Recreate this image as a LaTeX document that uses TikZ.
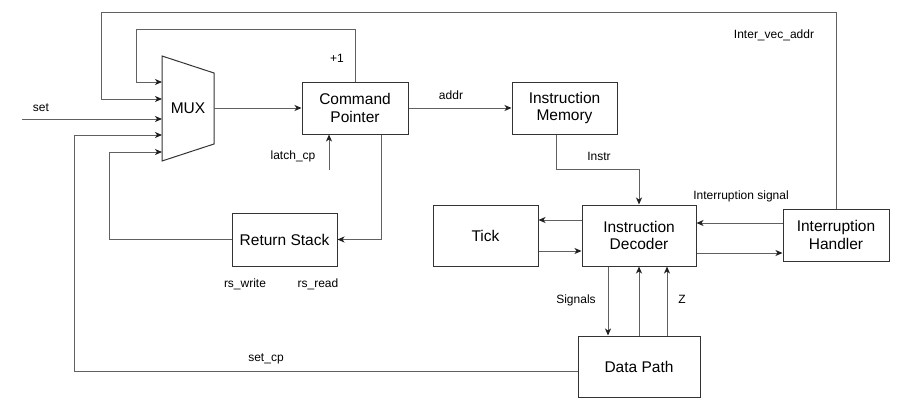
\documentclass[tikz,border=0pt]{standalone}
\usepackage{fontspec}
\setmainfont{Liberation Sans}
\usetikzlibrary{arrows.meta}
\begin{document}
\begin{tikzpicture}[x=1pt,y=-1pt,
  blk/.style={draw=black!80, line width=1pt, fill=white, align=center,
    font=\fontsize{15.5}{17.5}\selectfont, inner sep=0pt},
  wire/.style={draw=black!62, line width=1pt},
  arr/.style={wire, -{Stealth[length=7pt,width=6pt,inset=2pt,color=black!88]}},
  lbl/.style={font=\fontsize{12}{14}\selectfont, inner sep=0pt}]
\path[use as bounding box] (0,0) rectangle (909,415);

% functional blocks
\node[blk, minimum width=106pt, minimum height=52pt] (cp)   at (355,108)   {Command\\Pointer};
\node[blk, minimum width=105pt, minimum height=52pt] (im)   at (564.5,108) {Instruction\\Memory};
\node[blk, minimum width=114pt, minimum height=61pt] (id)   at (639,235.5) {Instruction\\Decoder};
\node[blk, minimum width=105pt, minimum height=61pt] (tick) at (485.5,235.5) {Tick};
\node[blk, minimum width=106pt, minimum height=52pt] (ih)   at (836,235)   {Interruption\\Handler};
\node[blk, minimum width=105pt, minimum height=53pt] (rs)   at (284.5,239.5) {Return Stack};
\node[blk, minimum width=122pt, minimum height=61pt] (dp)   at (639,366.5) {Data Path};

% multiplexer
\draw[draw=black!80, line width=1pt] (162,56) -- (214,73) -- (214,144) -- (162,161) -- cycle;
\node[font=\fontsize{15.5}{17.5}\selectfont, inner sep=0pt] (mux) at (188,108) {MUX};
\coordinate (mux-in1) at (162,82);
\coordinate (mux-in2) at (162,99);
\coordinate (mux-in3) at (162,119);
\coordinate (mux-in4) at (162,135);
\coordinate (mux-in5) at (162,152);
\coordinate (mux-out) at (214,108);
\coordinate (set-in)  at (22,119);
\coordinate (latch)   at (329,170);

% connectors
\draw[arr] (mux-out) -- (cp.west);
\draw[arr] (cp.north) -- (355,29) -- (136,29) -- (136,82) -- (mux-in1);
\draw[arr] (ih.north) -- (836,12) -- (101,12) -- (101,99) -- (mux-in2);
\draw[arr] (set-in) -- (mux-in3);
\draw[arr] ([yshift=-4.5pt]dp.west) -- (74,371) -- (74,135) -- (mux-in4);
\draw[arr] (rs.west) -- (109,239.5) -- (109,152) -- (mux-in5);
\draw[arr] ([xshift=26pt]cp.south) -- (381,239.5) -- (rs.east);
\draw[arr] (latch) -- (latch |- cp.south);
\draw[arr] (cp.east) -- (im.west);
\draw[arr] ([xshift=-8.5pt]im.south) -- (556,169) -- (639,169) -- (id.north);
\draw[arr] ([yshift=15.5pt]id.west) -- ([yshift=15.5pt]tick.east);
\draw[arr] ([yshift=-15.5pt]tick.east) -- ([yshift=-15.5pt]id.west);
\draw[arr] ([yshift=12pt]ih.west) -- ([yshift=12.5pt]id.east);
\draw[arr] ([yshift=-17.5pt]id.east) -- ([yshift=-18pt]ih.west);
\draw[arr] ([xshift=-31pt]id.south) -- ([xshift=-31pt]dp.north);
\draw[arr] (dp.north) -- (id.south);
\draw[arr] ([xshift=28pt]dp.north) -- ([xshift=28pt]id.south);

% signal labels
\node[lbl] (l-set)    at (41,108)  {set};
\node[lbl] (l-inc)    at (337,58)  {+1};
\node[lbl] (l-latch)  at (293,156) {latch\_cp};
\node[lbl] (l-addr)   at (451,95)  {addr};
\node[lbl] (l-instr)  at (599,156) {Instr};
\node[lbl] (l-vec)    at (774,35)  {Inter\_vec\_addr};
\node[lbl] (l-irq)    at (741,196) {Interruption signal};
\node[lbl] (l-rsw)    at (245,284) {rs\_write};
\node[lbl] (l-rsr)    at (318,284) {rs\_read};
\node[lbl] (l-setcp)  at (266,359) {set\_cp};
\node[lbl] (l-sig)    at (576,300) {Signals};
\node[lbl] (l-z)      at (682,299) {Z};
\end{tikzpicture}
\end{document}
